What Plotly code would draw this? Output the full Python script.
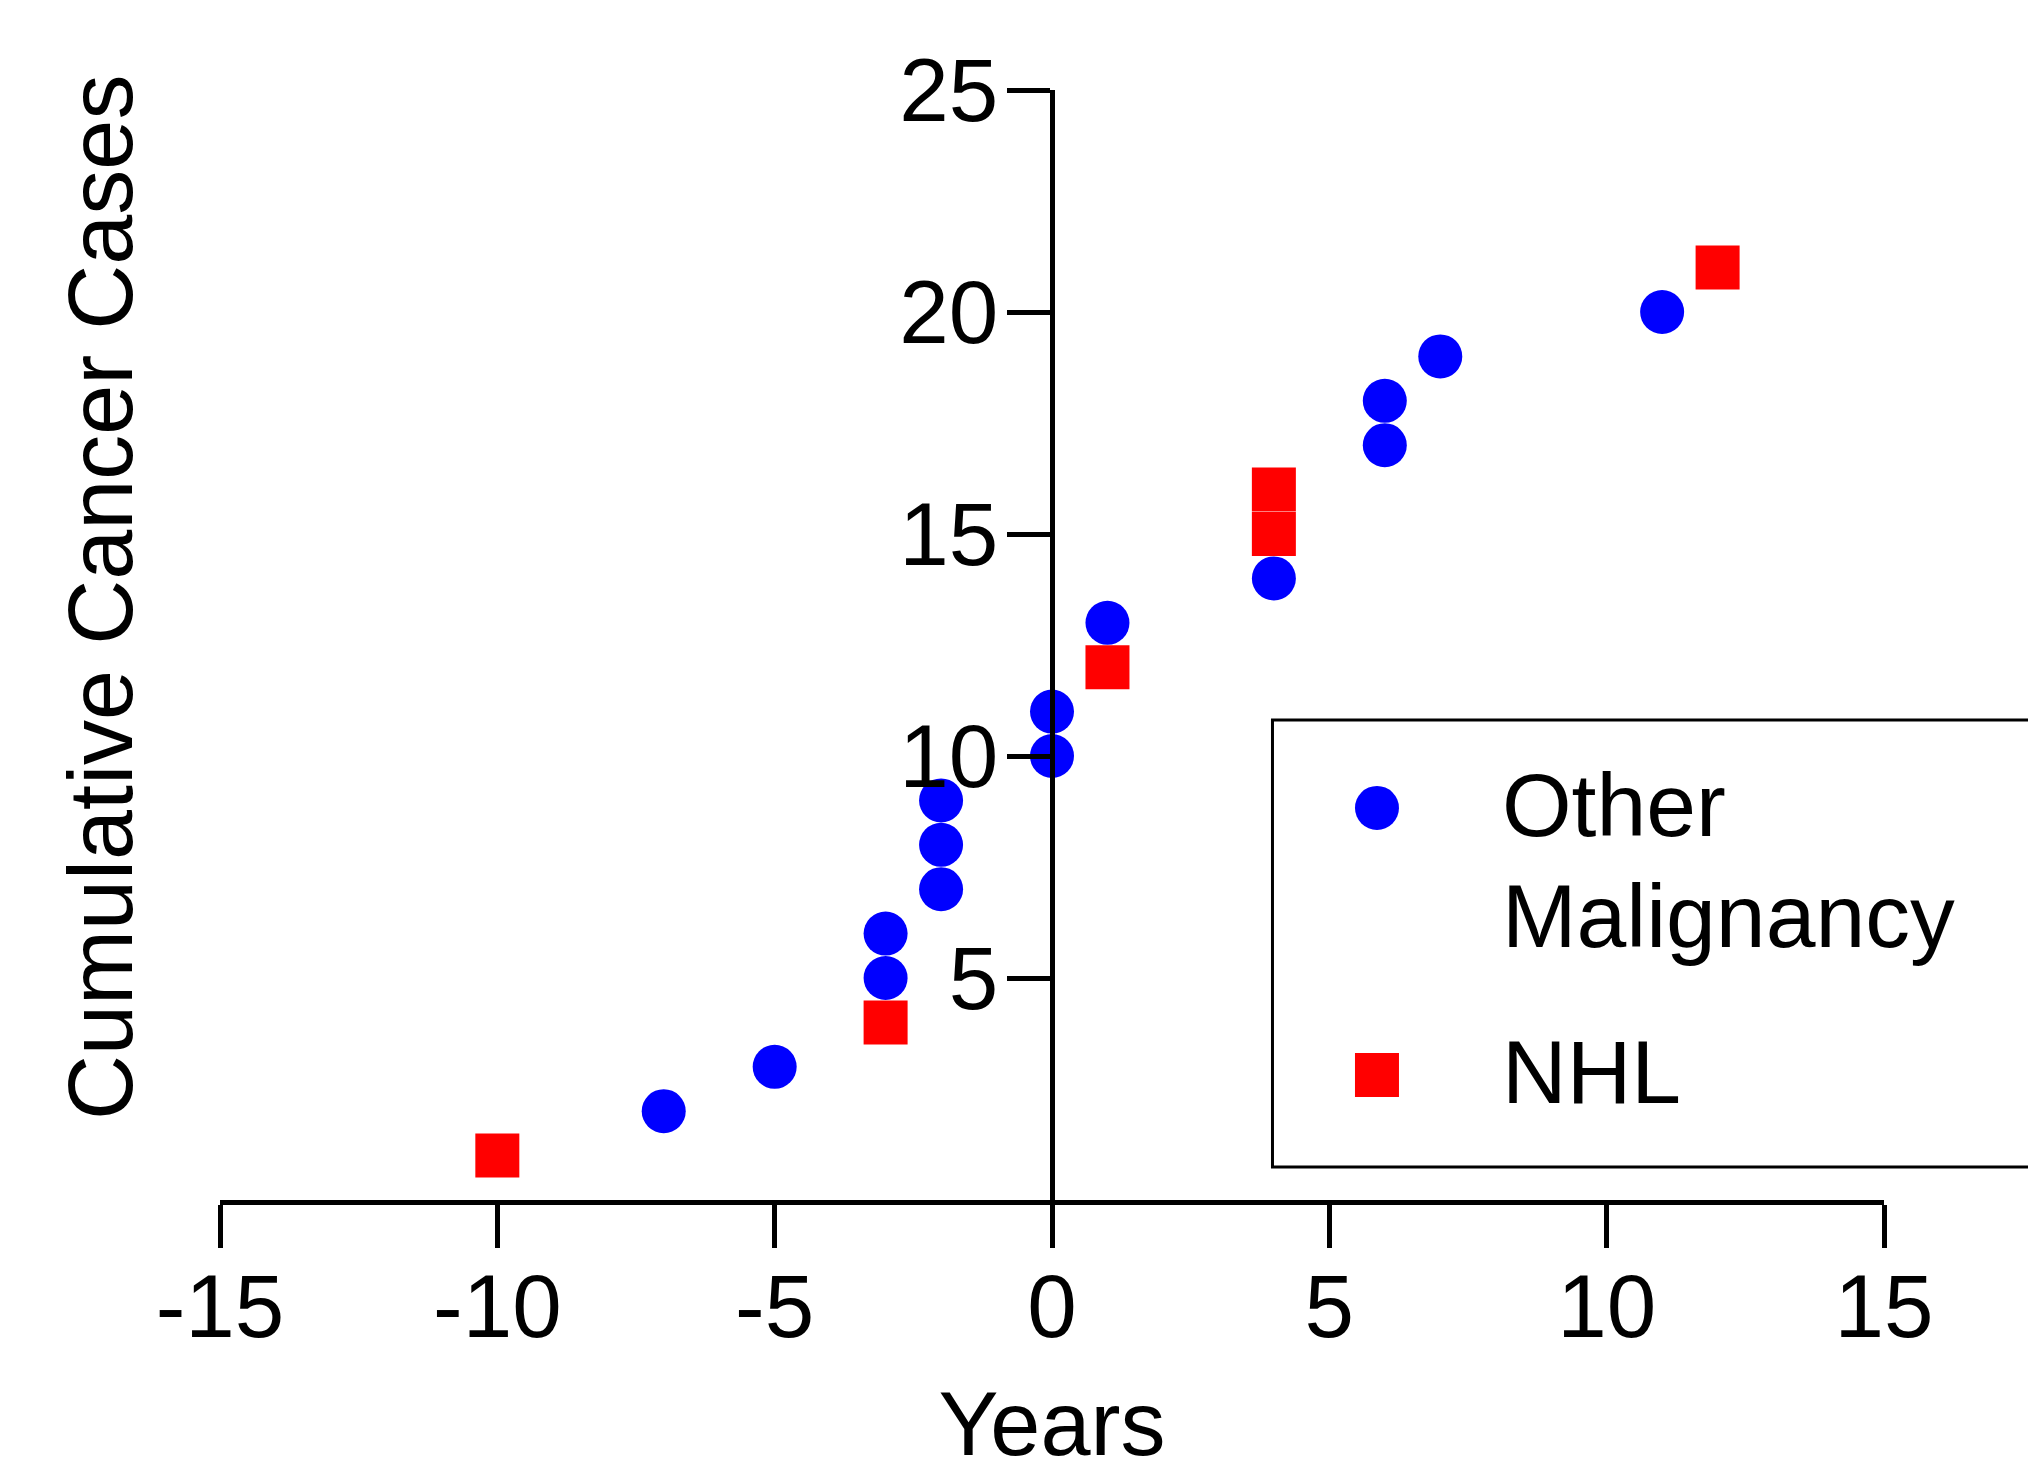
import plotly.graph_objects as go

# Data
other_years = [-7, -5, -3, -3, -2, -2, -2, 0, 0, 1, 4, 6, 6, 7, 11]
other_cum = [2, 3, 5, 6, 7, 8, 9, 10, 11, 13, 14, 17, 18, 19, 20]
nhl_years = [-10, -3, 1, 4, 4, 12]
nhl_cum = [1, 4, 12, 15, 16, 21]

x_ticks = [-15, -10, -5, 0, 5, 10, 15]
x_ticktext = ["-15", "-10", "-5", "0", "5", "10", "15"]
y_ticks = [5, 10, 15, 20, 25]
y_ticktext = ["5", "10", "15", "20", "25"]

FONT = "Liberation Sans, Arial, sans-serif"
FS_TICK = 89
FS_TITLE = 90
FS_LEG = 89.5
BLUE = "#0000FF"
RED = "#FF0000"

fig = go.Figure()
fig.add_trace(go.Scatter(x=other_years, y=other_cum, mode="markers", name="Other Malignancy",
                         marker=dict(symbol="circle", size=44, color=BLUE, line=dict(width=0)),
                         showlegend=False))
fig.add_trace(go.Scatter(x=nhl_years, y=nhl_cum, mode="markers", name="NHL",
                         marker=dict(symbol="square", size=44, color=RED, line=dict(width=0)),
                         showlegend=False))

fig.update_layout(
    width=2036, height=1466,
    margin=dict(l=212, r=160, t=82, b=274, autoexpand=False),
    paper_bgcolor="white", plot_bgcolor="white",
    font=dict(family=FONT, size=FS_TICK, color="black"),
    xaxis=dict(range=[-15, 15], tickvals=x_ticks, ticktext=x_ticktext, ticks="outside",
               ticklen=43, tickwidth=5, tickcolor="black", showline=True, linewidth=5,
               linecolor="black", showgrid=False, zeroline=False, tickfont=dict(size=FS_TICK),
               ticklabelstandoff=-18,
               title=dict(text="Years", font=dict(size=FS_TITLE), standoff=79), automargin=False),
    yaxis=dict(range=[0, 25], tickvals=y_ticks, ticktext=y_ticktext, ticks="outside",
               ticklen=43, tickwidth=5, tickcolor="black", showline=True, linewidth=5,
               linecolor="black", showgrid=False, zeroline=False, tickfont=dict(size=FS_TICK),
               ticklabelstandoff=-9,
               anchor="free", position=0.5, automargin=False),
)

# Y-axis title (offset upward as in the original)
fig.add_annotation(text="Cumulative Cancer Cases", xref="paper", yref="paper",
                   x=(101 - 220) / 1664, y=(1200 - 598) / 1110, xanchor="center", yanchor="middle",
                   textangle=-90, showarrow=False, font=dict(size=FS_TITLE, family=FONT), borderpad=0)

# Legend box (drawn manually so markers match the plot marker size)
fig.add_shape(type="rect", xref="paper", yref="paper", x0=0.6325, x1=1.0901, y0=0.0297, y1=0.4324,
              line=dict(color="black", width=3), fillcolor="white", layer="above")
fig.add_shape(type="circle", xref="paper", yref="paper", xsizemode="pixel", ysizemode="pixel",
              xanchor=0.6953, yanchor=0.3532, x0=-22, x1=22, y0=-22, y1=22,
              fillcolor=BLUE, line=dict(width=0), layer="above")
fig.add_shape(type="rect", xref="paper", yref="paper", xsizemode="pixel", ysizemode="pixel",
              xanchor=0.6953, yanchor=0.1126, x0=-22, x1=22, y0=-22, y1=22,
              fillcolor=RED, line=dict(width=0), layer="above")
fig.add_annotation(text="Other", xref="paper", yref="paper", x=0.770, y=0.4016,
                   xanchor="left", yanchor="top", align="left", showarrow=False,
                   font=dict(size=FS_LEG, family=FONT), borderpad=0)
fig.add_annotation(text="Malignancy", xref="paper", yref="paper", x=0.770, y=0.3018,
                   xanchor="left", yanchor="top", align="left", showarrow=False,
                   font=dict(size=FS_LEG, family=FONT), borderpad=0)
fig.add_annotation(text="NHL", xref="paper", yref="paper", x=0.770, y=0.161,
                   xanchor="left", yanchor="top", align="left", showarrow=False,
                   font=dict(size=FS_LEG, family=FONT), borderpad=0)

fig.write_html("out.html")
